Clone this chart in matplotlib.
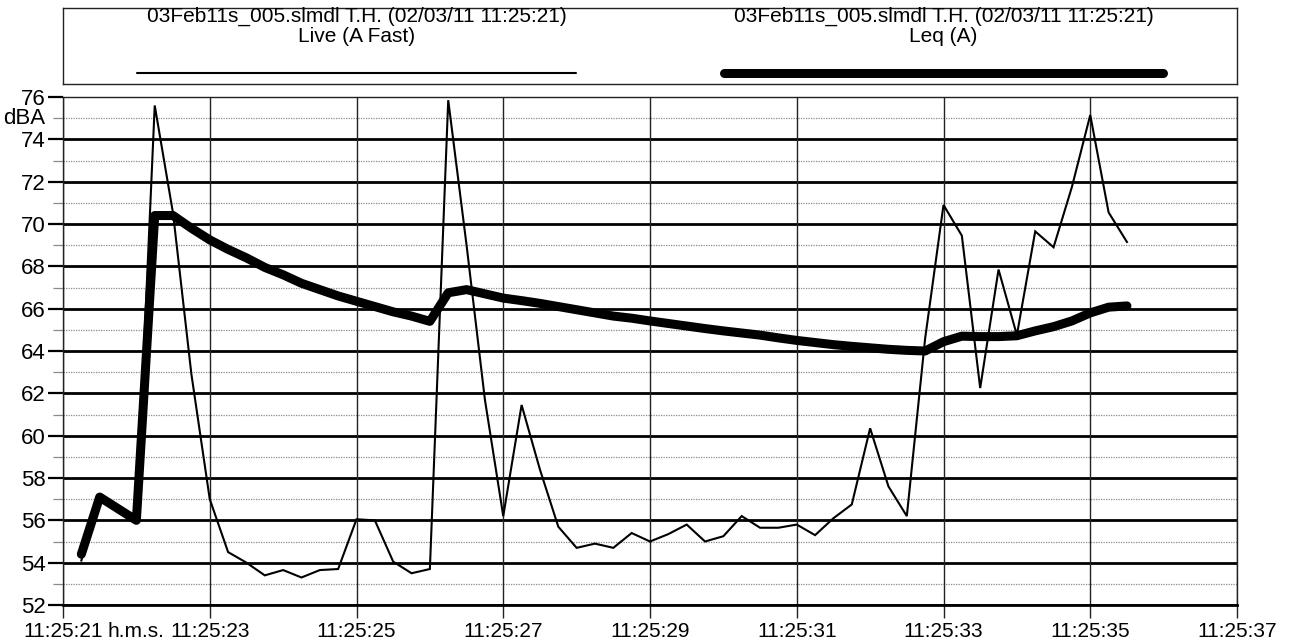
import matplotlib
matplotlib.use("Agg")
import matplotlib.pyplot as plt
from matplotlib.lines import Line2D

plt.rcParams['font.family'] = ['Liberation Sans', 'DejaVu Sans']

# ---------------- data ----------------
# sample times in seconds after 11:25:00 (every 0.25 s)
time_s = [21.25 + 0.25 * i for i in range(58)]

live_a_fast = [
    54.1, 57.1, 56.55, 56.0, 75.6, 70.5, 62.9, 57.0, 54.5, 54.0,
    53.4, 53.65, 53.3, 53.65, 53.7, 56.05, 56.0, 54.05, 53.5, 53.7,
    75.85, 69.0, 61.7, 56.2, 61.45, 58.4, 55.7, 54.7, 54.9, 54.7,
    55.4, 55.0, 55.35, 55.8, 55.0, 55.25, 56.2, 55.65, 55.65, 55.8,
    55.3, 56.1, 56.75, 60.35, 57.6, 56.2, 64.6, 70.9, 69.45, 62.25,
    67.85, 64.75, 69.65, 68.9, 71.75, 75.15, 70.55, 69.15,
]

leq_a = [
    54.4, 57.1, 56.55, 56.0, 70.4, 70.4, 69.8, 69.25, 68.8, 68.4,
    67.95, 67.6, 67.2, 66.9, 66.6, 66.35, 66.1, 65.85, 65.65, 65.4,
    66.75, 66.9, 66.7, 66.5, 66.38, 66.25, 66.1, 65.95, 65.8, 65.65,
    65.55, 65.42, 65.3, 65.18, 65.06, 64.95, 64.85, 64.75, 64.62, 64.5,
    64.4, 64.3, 64.22, 64.15, 64.08, 64.03, 64.0, 64.44, 64.7, 64.68,
    64.68, 64.72, 64.95, 65.15, 65.42, 65.8, 66.07, 66.13,
]

xtick_secs = [21, 23, 25, 27, 29, 31, 33, 35, 37]
xtick_labels = ['11:25:21', '11:25:23', '11:25:25', '11:25:27', '11:25:29',
                '11:25:31', '11:25:33', '11:25:35', '11:25:37']
ytick_major = [52, 54, 56, 58, 60, 62, 64, 66, 68, 70, 72, 74, 76]
ytick_minor = [53, 55, 57, 59, 61, 63, 65, 67, 69, 71, 73, 75]

legend_title = '03Feb11s_005.slmdl T.H. (02/03/11 11:25:21)'
series_names = ['Live (A Fast)', 'Leq (A)']
y_unit = 'dBA'
x_unit = 'h.m.s.'

# ---------------- figure ----------------
W, H = 1296, 644
fig = plt.figure(figsize=(W / 100, H / 100), dpi=100)
fig.patch.set_facecolor('white')

ax = fig.add_axes([63 / W, 1 - 605 / H, 1174 / W, 508 / H])
ax.set_xlim(21, 37)
ax.set_ylim(52, 76)

# horizontal grid
for yv in ytick_major:
    if yv < 76:
        ax.axhline(yv, color='black', lw=2.0, zorder=1)
for yv in ytick_minor:
    ax.axhline(yv, color='#8a8a8a', lw=0.9, ls=(0, (1, 1)), zorder=1)
# vertical grid
for xv in xtick_secs:
    ax.axvline(xv, color='#222222', lw=1.0, zorder=1)

ax.plot(time_s, live_a_fast, color='black', lw=1.5, zorder=3,
        solid_joinstyle='miter')
ax.plot(time_s, leq_a, color='black', lw=6.5, zorder=4,
        solid_joinstyle='round', solid_capstyle='round')

ax.set_xticks(xtick_secs)
ax.set_xticklabels(xtick_labels)
ax.set_yticks(ytick_major)
ax.set_yticks(ytick_minor, minor=True)
ax.tick_params(axis='x', direction='out', length=9, width=1.0,
               labelsize=15, pad=3, color='#222222')
ax.tick_params(axis='y', which='major', direction='out', length=11,
               width=1.6, labelsize=16, pad=1.5)
ax.tick_params(axis='y', which='minor', direction='out', length=7,
               width=0.9, color='#8a8a8a')

for side in ['top', 'left', 'right']:
    ax.spines[side].set_linewidth(1.0)
    ax.spines[side].set_color('#222222')
ax.spines['bottom'].set_linewidth(2.0)

ax.annotate(y_unit, xy=(0, 75), xycoords=('axes fraction', 'data'),
            xytext=(-12.5, 0), textcoords='offset points',
            ha='right', va='center', fontsize=16)
ax.annotate(x_unit, xy=(22.0, 0), xycoords=('data', 'axes fraction'),
            xytext=(0, -12), textcoords='offset points',
            ha='center', va='top', fontsize=15)

# ---------------- legend box ----------------
lax = fig.add_axes([63 / W, 1 - 84 / H, 1174 / W, 76 / H])
lax.set_xlim(0, 1)
lax.set_ylim(0, 1)
lax.set_xticks([])
lax.set_yticks([])
for s in lax.spines.values():
    s.set_linewidth(1.0)
    s.set_color('#222222')

centers = [0.25, 0.75]
widths = [1.5, 6.5]
for c, name, lw in zip(centers, series_names, widths):
    lax.text(c, 0.885, legend_title, ha='center', va='center', fontsize=15)
    lax.text(c, 0.63, name, ha='center', va='center', fontsize=15)
    lax.add_line(Line2D([c - 0.187, c + 0.187], [0.145, 0.145], color='black',
                        lw=lw, solid_capstyle='round'))

fig.savefig('out.png', dpi=100, facecolor='white')
